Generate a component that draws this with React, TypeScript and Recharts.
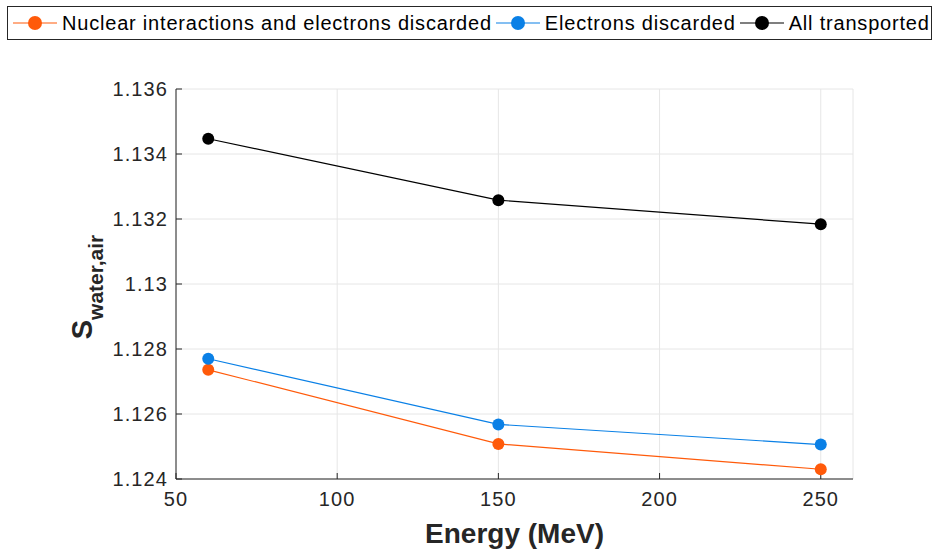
import { LineChart, Line, XAxis, YAxis, CartesianGrid, Legend } from 'recharts';

const energies = [60, 150, 250];
const nuclearDiscarded = [1.12736, 1.12508, 1.1243];
const electronsDiscarded = [1.1277, 1.12568, 1.12506];
const allTransported = [1.13447, 1.13258, 1.13184];
const xTicks = [50, 100, 150, 200, 250];
const yTicks = [1.124, 1.126, 1.128, 1.13, 1.132, 1.134, 1.136];

const series = [
  { key: 'nuclear', name: 'Nuclear interactions and electrons discarded', color: '#FF5A0A', values: nuclearDiscarded },
  { key: 'electrons', name: 'Electrons discarded', color: '#0A80E6', values: electronsDiscarded },
  { key: 'all', name: 'All transported', color: '#000000', values: allTransported },
];

const data = energies.map((e, i) => ({
  energy: e,
  nuclear: nuclearDiscarded[i],
  electrons: electronsDiscarded[i],
  all: allTransported[i],
}));

const FONT = '"Liberation Sans", Arial, Helvetica, sans-serif';
const INK = '#262626';

function fmtY(v: number) {
  return String(parseFloat(v.toFixed(3)));
}

function LegendBox() {
  return (
    <div
      style={{
        display: 'flex',
        alignItems: 'center',
        height: 34,
        width: 925,
        boxSizing: 'border-box',
        border: '1px solid #262626',
        background: '#fff',
        fontFamily: FONT,
        fontSize: 20,
        letterSpacing: '0.8px',
        color: '#000',
        paddingLeft: 5,
        whiteSpace: 'nowrap',
      }}
    >
      {series.map((s) => (
        <span key={s.key} style={{ display: 'flex', alignItems: 'center', marginRight: 4 }}>
          <svg width={44} height={20} style={{ marginRight: 5 }}>
            <line x1={0} y1={10} x2={44} y2={10} stroke={s.color} strokeWidth={1.2} />
            <circle cx={22} cy={10} r={7} fill={s.color} />
          </svg>
          {s.name}
        </span>
      ))}
    </div>
  );
}

function YLabel() {
  return (
    <text
      transform="translate(92 287) rotate(-90)"
      textAnchor="middle"
      fontFamily={FONT}
      fontWeight="bold"
      fill={INK}
    >
      <tspan fontSize={29}>S</tspan>
      <tspan fontSize={21} dy={11}>water,air</tspan>
    </text>
  );
}

const tickStyle = { letterSpacing: '1.1px' };

export default function App() {
  return (
    <div style={{ position: 'absolute', left: 0, top: 0, width: 933, height: 552, background: '#fff' }}>
      <LineChart
        width={933}
        height={552}
        data={data}
        margin={{ top: 55, right: 80, left: 0, bottom: 0 }}
      >
        <Legend
          verticalAlign="top"
          align="left"
          content={() => <LegendBox />}
          wrapperStyle={{ top: 6, left: 7, height: 34, width: 925 }}
        />
        <CartesianGrid stroke="#e6e6e6" strokeWidth={1} />
        <XAxis
          dataKey="energy"
          type="number"
          domain={[50, 260]}
          ticks={xTicks}
          height={73}
          stroke={INK}
          tickSize={-6}
          tick={{ fill: INK, fontSize: 20, fontFamily: FONT, dy: 17, style: tickStyle }}
          label={{
            value: 'Energy (MeV)',
            position: 'insideBottom',
            offset: 9,
            fill: INK,
            fontSize: 28,
            fontWeight: 'bold',
            fontFamily: FONT,
          }}
        />
        <XAxis xAxisId="top" orientation="top" type="number" domain={[50, 260]} ticks={xTicks} tick={false} tickSize={-6} stroke={INK} height={0} />
        <YAxis
          type="number"
          domain={[1.124, 1.136]}
          ticks={yTicks}
          width={176}
          stroke={INK}
          tickSize={-6}
          tickFormatter={fmtY}
          tick={{ fill: INK, fontSize: 20, fontFamily: FONT, dx: -12, style: tickStyle }}
          label={<YLabel />}
        />
        <YAxis yAxisId="right" orientation="right" type="number" domain={[1.124, 1.136]} ticks={yTicks} tick={false} tickSize={-6} stroke={INK} width={0} />
        {series.map((s) => (
          <Line
            key={s.key}
            dataKey={s.key}
            name={s.name}
            type="linear"
            stroke={s.color}
            strokeWidth={1.2}
            dot={{ r: 6, fill: s.color, stroke: s.color, strokeWidth: 0 }}
            activeDot={false}
            isAnimationActive={false}
          />
        ))}
      </LineChart>
    </div>
  );
}
